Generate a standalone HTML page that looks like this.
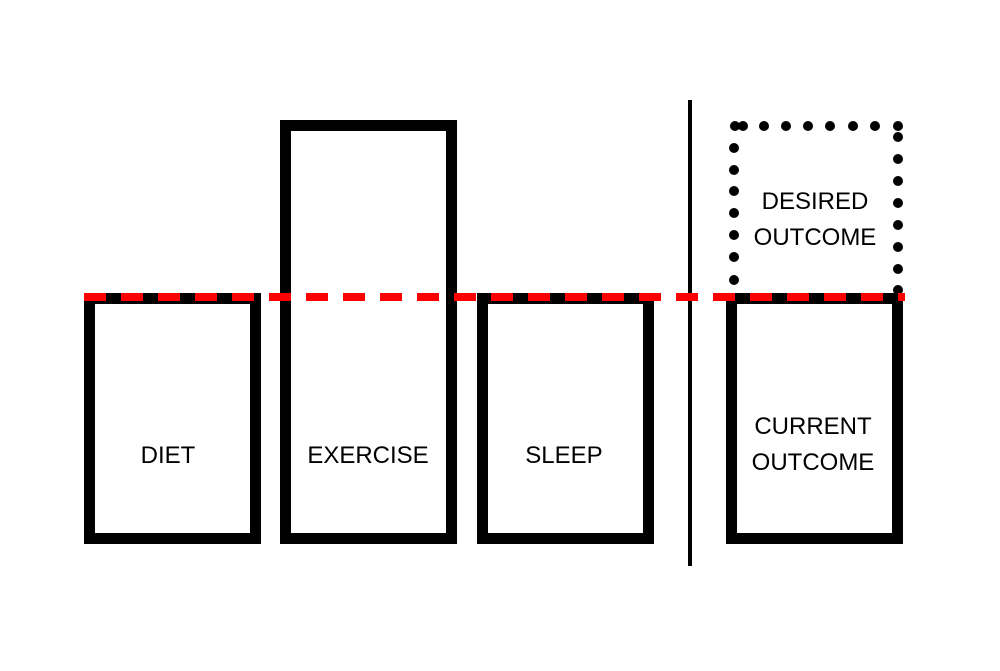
<!DOCTYPE html>
<html><head><style>html,body{margin:0;padding:0;background:#fff;}svg{display:block}</style></head>
<body>
<svg width="1000" height="671" viewBox="0 0 1000 671" xmlns="http://www.w3.org/2000/svg">
<rect width="1000" height="671" fill="#fff"/>
<g fill="none" stroke="#000" stroke-width="11">
<rect x="89.5" y="298.5" width="166" height="240"/>
<rect x="285.5" y="125.5" width="166" height="413"/>
<rect x="482.5" y="298.5" width="166" height="240"/>
<rect x="731.5" y="298.5" width="166" height="240"/>
</g>
<rect x="688" y="100" width="4" height="466" fill="#000"/>
<g fill="#000">
<circle cx="735" cy="126" r="5"/><circle cx="743" cy="126" r="5"/>
<circle cx="764" cy="126" r="5"/><circle cx="786" cy="126" r="5"/><circle cx="808" cy="126" r="5"/><circle cx="830" cy="126" r="5"/><circle cx="853" cy="126" r="5"/><circle cx="875" cy="126" r="5"/><circle cx="898" cy="126" r="5"/>
<circle cx="734" cy="148" r="5"/><circle cx="734" cy="170" r="5"/><circle cx="734" cy="191" r="5"/><circle cx="734" cy="213" r="5"/><circle cx="734" cy="235" r="5"/><circle cx="734" cy="257" r="5"/><circle cx="734" cy="280" r="5"/>
<circle cx="898" cy="137" r="5"/><circle cx="898" cy="159" r="5"/><circle cx="898" cy="181" r="5"/><circle cx="898" cy="203" r="5"/><circle cx="898" cy="225" r="5"/><circle cx="898" cy="247" r="5"/><circle cx="898" cy="269" r="5"/><circle cx="898" cy="290" r="5"/>
</g>
<line x1="84" y1="297" x2="905" y2="297" stroke="#f00" stroke-width="8" stroke-dasharray="22 15"/>
<g font-family="Liberation Sans, sans-serif" font-size="24" text-anchor="middle" fill="#000">
<text x="168" y="463">DIET</text>
<text x="368" y="463">EXERCISE</text>
<text x="564" y="463">SLEEP</text>
<text x="813" y="434">CURRENT</text>
<text x="813" y="470">OUTCOME</text>
<text x="815" y="209">DESIRED</text>
<text x="815" y="245">OUTCOME</text>
</g>
</svg>
</body></html>
